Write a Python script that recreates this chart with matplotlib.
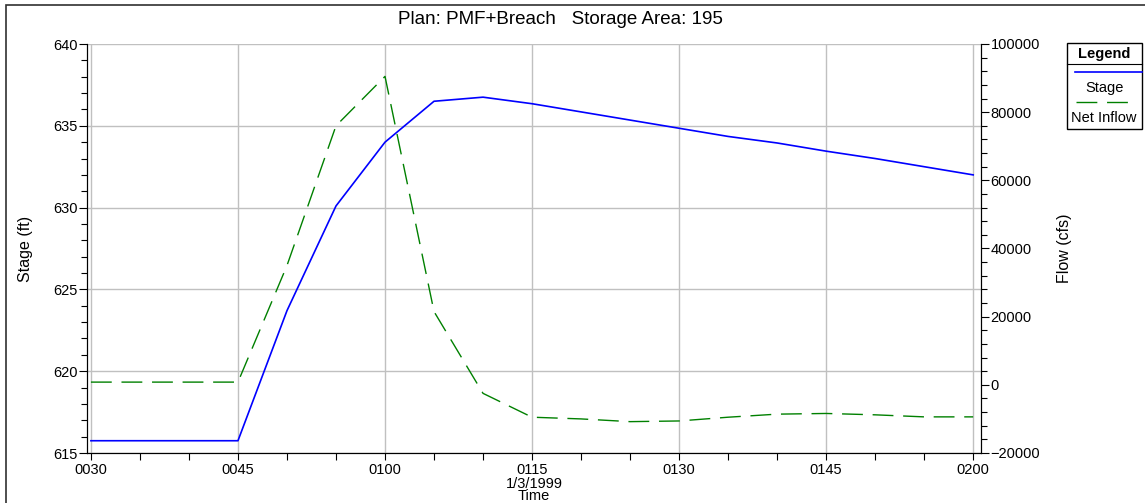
import numpy as np
import matplotlib.pyplot as plt
from matplotlib.patches import Rectangle
from matplotlib.lines import Line2D

plt.rcParams['font.family'] = ['Liberation Sans', 'DejaVu Sans']

# minutes after midnight, 1/3/1999
minutes = [30, 35, 40, 45, 50, 55, 60, 65, 70, 75, 80, 85, 90, 95, 100, 105, 110, 115, 120]
stage = [615.75, 615.75, 615.75, 615.75, 623.7, 630.1, 634.0, 636.5, 636.75, 636.35,
         635.85, 635.35, 634.85, 634.35, 633.95, 633.45, 633.0, 632.5, 632.0]
net_inflow = [800, 800, 800, 800, 35000, 76000, 90500, 21500, -2500, -9500,
              -10000, -10800, -10600, -9500, -8600, -8400, -8800, -9400, -9400]
xtick_pos = [30, 45, 60, 75, 90, 105, 120]
xtick_lab = ['0030', '0045', '0100', '0115', '0130', '0145', '0200']

W, H = 1145, 503
fig = plt.figure(figsize=(W / 100, H / 100), dpi=100)
ax = fig.add_axes([87 / W, 1 - 453 / H, (981 - 87) / W, (453 - 44) / H])
ax2 = ax.twinx()

ax.plot(minutes, stage, color='#0000ff', lw=1.2, zorder=3)
ax2.plot(minutes, net_inflow, color='#008000', lw=1.0, dashes=(15, 7))

ax.set_xlim(29.6, 120.8)
ax.set_ylim(615, 640)
ax2.set_ylim(-20000, 100000)

ax.set_xticks(xtick_pos)
ax.set_xticklabels(xtick_lab)
ax.set_xticks(np.arange(30, 121, 5), minor=True)
ax.set_yticks([615, 620, 625, 630, 635, 640])
ax.set_yticks(np.arange(615, 641, 1), minor=True)
ax2.set_yticks(np.arange(-20000, 100001, 20000))
ax2.set_yticks(np.arange(-20000, 100001, 4000), minor=True)

ax.grid(True, which='major', color='#c0c0c0', lw=1.0)
ax.set_axisbelow(True)
for a in (ax, ax2):
    a.spines['top'].set_visible(False)
    for s in a.spines.values():
        s.set_linewidth(0.8)
ax.tick_params(axis='both', which='major', labelsize=10.5, length=6, width=0.8, pad=1)
ax.tick_params(axis='both', which='minor', length=4, width=0.8)
ax.tick_params(axis='x', which='both', length=5, pad=2)
ax2.tick_params(which='major', labelsize=10.5, length=6, width=0.8, pad=1)
ax2.tick_params(which='minor', length=4, width=0.8)

ax.set_ylabel('Stage (ft)', fontsize=11.5, labelpad=14)
ax2.set_ylabel('Flow (cfs)', fontsize=11.5, labelpad=12)
ax.set_xlabel('1/3/1999\nTime', fontsize=10.5, labelpad=0, linespacing=0.8)

fig.text(560 / W, 1 - 20 / H, 'Plan: PMF+Breach   Storage Area: 195',
         ha='center', va='center', fontsize=13.5)

# outer frame
fig.add_artist(Rectangle((6 / W, -0.1), 1.2, 1 - 5 / H + 0.1, transform=fig.transFigure,
                         fill=False, ec='#303030', lw=1.2))

# legend box
x0, x1 = 1067 / W, 1142 / W
fig.add_artist(Rectangle((x0, 1 - 129 / H), x1 - x0, (129 - 43) / H,
                         transform=fig.transFigure, fill=False, ec='black', lw=1.0))
fig.add_artist(Line2D([x0, x1], [1 - 64 / H] * 2, transform=fig.transFigure, color='black', lw=0.8))
fig.text((x0 + x1) / 2, 1 - 54 / H, 'Legend', ha='center', va='center', fontsize=10.5, fontweight='bold')
fig.add_artist(Line2D([1075 / W, 1142 / W], [1 - 72 / H] * 2, transform=fig.transFigure,
                      color='#0000ff', lw=1.2))
fig.text((x0 + x1) / 2, 1 - 88 / H, 'Stage', ha='center', va='center', fontsize=10.5)
fig.add_artist(Line2D([1076 / W, 1132 / W], [1 - 102 / H] * 2, transform=fig.transFigure,
                      color='#008000', lw=1.0, dashes=(15, 7)))
fig.text(1071 / W, 1 - 118 / H, 'Net Inflow', ha='left', va='center', fontsize=10.5)

fig.savefig('out.png', dpi=100)
